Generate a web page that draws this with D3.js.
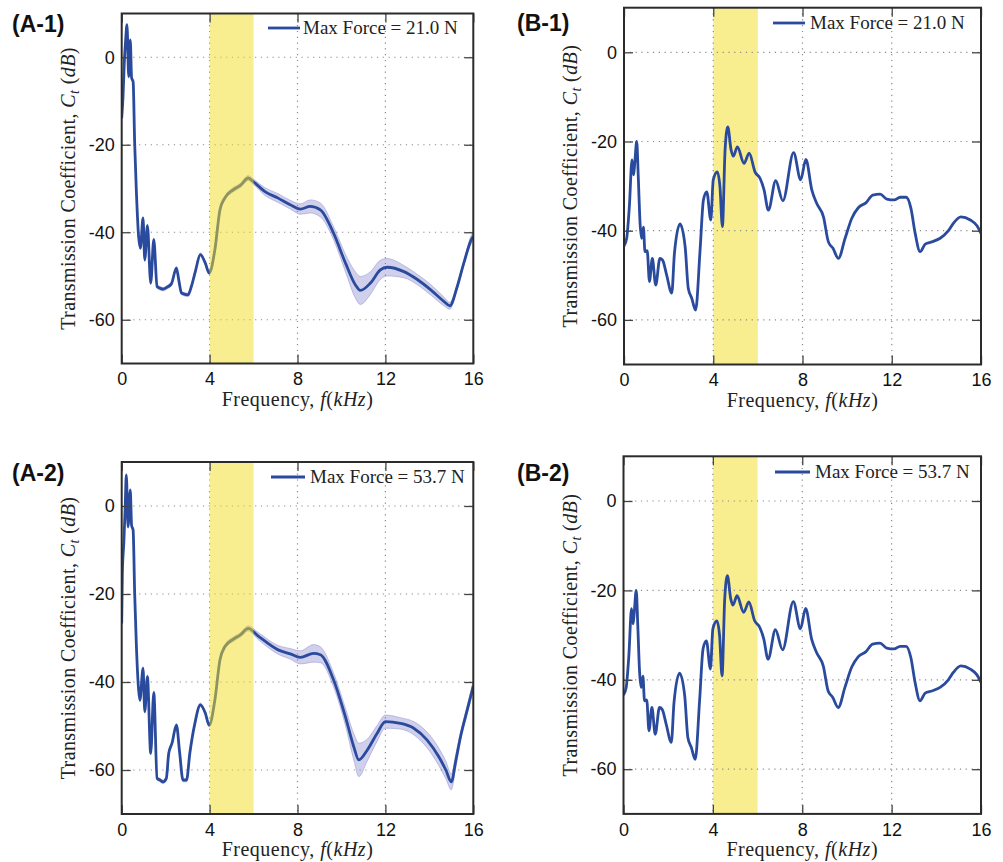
<!DOCTYPE html>
<html><head><meta charset="utf-8">
<script src="https://cdn.jsdelivr.net/npm/d3@7"></script>
<style>body{margin:0;background:#fff} svg{display:block}</style>
</head><body>
<svg id="chart" width="1003" height="862"></svg>
<script>
// ---------- data ----------
const xTicks = [0, 4, 8, 12, 16];
const yTicks = [0, -20, -40, -60];
const highlightBand = [4, 6];
const xDomain = [0, 16];
const yDomain = [-70, 10];

const a1Freq = [0, 0.06, 0.12, 0.18, 0.24, 0.32, 0.39, 0.45, 0.52, 0.59, 0.67, 0.77, 0.85, 0.97, 1.05, 1.17, 1.32, 1.46, 1.61, 1.75, 1.88, 2.05, 2.26, 2.49, 2.6, 2.72, 3.02, 3.17, 3.35, 3.58, 3.8, 3.98, 4.24, 4.47, 4.69, 5.07, 5.4, 5.76, 5.98, 6.52, 7.12, 7.67, 8.13, 8.58, 9.04, 9.64, 10.18, 10.63, 10.86, 11.32, 11.77, 12.08, 12.84, 13.45, 14.05, 14.66, 14.93, 15.27, 15.57, 15.95, 16];
const a1Mean = [-13.9, -9, -1, 4, 7.4, -4.4, 3.9, -4.7, -5.6, -19.6, -31, -41, -43.6, -36.8, -46.3, -38.5, -51.6, -41.7, -52.4, -52.8, -53, -52.6, -51.8, -48.2, -51, -53.9, -54.3, -52.4, -49, -45.1, -47, -49.3, -44, -34.9, -32.2, -30.3, -29.3, -27.6, -28.4, -30.7, -32.2, -33.7, -34.7, -34.1, -34.9, -40.2, -47, -52, -53.3, -51.6, -48.6, -48, -49, -50.8, -53.1, -55.8, -56.8, -52.4, -47, -41.3, -41];
const a1Spread = [0.4, 0.4, 0.4, 0.4, 0.4, 0.4, 0.4, 0.4, 0.4, 0.4, 0.4, 0.4, 0.4, 0.4, 0.4, 0.4, 0.4, 0.4, 0.4, 0.4, 0.4, 0.4, 0.4, 0.4, 0.4, 0.4, 0.4, 0.4, 0.4, 0.4, 0.4, 0.4, 0.5, 0.5, 0.5, 0.5, 0.5, 0.6, 0.6, 0.9, 1.0, 1.0, 1.2, 1.5, 1.6, 1.5, 2.0, 3.0, 3.2, 2.6, 2.2, 2.0, 1.4, 1.2, 1.2, 1.0, 0.8, 0.6, 0.6, 1.0, 1.0];

const a2Freq = [0, 0.03, 0.1, 0.16, 0.21, 0.29, 0.39, 0.45, 0.52, 0.59, 0.67, 0.77, 0.83, 0.97, 1.05, 1.17, 1.32, 1.46, 1.61, 1.75, 1.88, 2.03, 2.14, 2.29, 2.49, 2.64, 2.79, 2.95, 3.1, 3.33, 3.58, 3.8, 3.98, 4.24, 4.47, 4.69, 5.07, 5.4, 5.76, 6.2, 7.12, 7.67, 8.13, 8.73, 9.04, 9.64, 10.18, 10.56, 10.79, 11.17, 11.62, 12.0, 12.68, 13.29, 13.9, 14.43, 14.75, 15.0, 15.2, 15.42, 15.72, 16];
const a2Mean = [-26.7, -15.3, -8, 0, 7.0, -4.7, 3.6, -4.4, -5.5, -19.8, -32, -41.8, -44.1, -36.9, -46.7, -38.8, -56.2, -42.4, -61.9, -62.3, -62.7, -61.9, -56.2, -53.9, -49.8, -56.2, -62.3, -62.3, -56.2, -49.4, -45.2, -47, -49.8, -44.1, -35, -32, -30.3, -29.3, -27.8, -29.5, -32.7, -33.6, -34.4, -33.5, -33.8, -39.5, -47.9, -54.7, -57.7, -55.5, -51.7, -49, -49.4, -50.5, -53.2, -57, -60, -62.7, -58, -52.4, -46.4, -40.9];
const a2Spread = [0.4, 0.4, 0.4, 0.4, 0.4, 0.4, 0.4, 0.4, 0.4, 0.4, 0.4, 0.4, 0.4, 0.4, 0.4, 0.4, 0.4, 0.4, 0.4, 0.4, 0.4, 0.4, 0.4, 0.4, 0.4, 0.4, 0.4, 0.4, 0.4, 0.4, 0.4, 0.4, 0.4, 0.5, 0.5, 0.5, 0.5, 0.5, 0.6, 0.8, 1.0, 1.2, 1.5, 2.0, 1.8, 1.6, 2.0, 3.0, 3.8, 2.5, 1.8, 1.5, 1.3, 1.5, 1.8, 2.0, 2.0, 1.8, 1.5, 1.0, 1.0, 1.0];

const b1Freq = [0, 0.12, 0.24, 0.36, 0.43, 0.48, 0.57, 0.64, 0.72, 0.79, 0.87, 0.94, 1.04, 1.14, 1.27, 1.42, 1.61, 1.73, 1.91, 2.14, 2.26, 2.51, 2.74, 2.88, 3.04, 3.21, 3.41, 3.56, 3.71, 3.89, 4.0, 4.18, 4.3, 4.41, 4.53, 4.65, 4.8, 4.9, 5.08, 5.38, 5.61, 5.87, 6.1, 6.28, 6.47, 6.8, 7.12, 7.6, 7.92, 8.15, 8.42, 8.64, 8.94, 9.16, 9.36, 9.61, 9.91, 10.21, 10.51, 10.85, 11.15, 11.48, 11.78, 12.11, 12.38, 12.65, 12.86, 13.05, 13.27, 13.5, 13.8, 14.17, 14.54, 14.77, 15.1, 15.52, 15.82, 16];
const b1Values = [-43.4, -41.7, -34.6, -24.1, -27.5, -25, -20, -27.9, -38.3, -41.7, -39.2, -44.7, -44.5, -51.4, -46.2, -52.2, -46.2, -46.6, -49.9, -54, -45.1, -38.5, -43.6, -52.9, -55.2, -57.8, -44.3, -33.1, -31.3, -37.6, -28.6, -26.8, -30.1, -39.1, -21.9, -16.7, -21.9, -23.3, -21.2, -24.9, -22.6, -26.8, -28.3, -30.9, -35.4, -28.8, -33.3, -22.5, -28.6, -24, -30.9, -33.9, -36.9, -42.5, -43.9, -46.2, -41.7, -37.2, -34.8, -33.7, -32, -31.8, -32.9, -33.1, -32.5, -32.5, -35, -40.6, -44.7, -43, -42.5, -41.7, -40, -38.3, -36.9, -37.6, -38.9, -40.6];
const b2Freq = b1Freq.slice();
const b2Values = b1Values.slice();

const panelLabels = ["(A-1)", "(B-1)", "(A-2)", "(B-2)"];
const legendTexts = ["Max Force = 21.0 N", "Max Force = 21.0 N", "Max Force = 53.7 N", "Max Force = 53.7 N"];

// ---------- layout ----------
const panels = [
  {key:"a1", freq:a1Freq, vals:a1Mean, spread:a1Spread, box:{l:121.7, r:473.3, t:13.5, b:363.5}, lab:[12,32], leg:[268,300,28,303], overlay:true},
  {key:"b1", freq:b1Freq, vals:b1Values, spread:null, box:{l:624, r:981, t:7.7, b:364.5}, lab:[517,31], leg:[773,805,23,810], overlay:false},
  {key:"a2", freq:a2Freq, vals:a2Mean, spread:a2Spread, box:{l:121.7, r:473.3, t:462, b:814}, lab:[12,481], leg:[271,305,477,310], overlay:true},
  {key:"b2", freq:b2Freq, vals:b2Values, spread:null, box:{l:623.5, r:981, t:456.3, b:813.9}, lab:[517,481], leg:[775,810,472,815], overlay:false}
];

const lineColor = "#2a4b9d";
const sans = "'Liberation Sans', Arial, Helvetica, sans-serif";
const serif = "'Liberation Serif', 'Times New Roman', serif";
const svg = d3.select("#chart");

panels.forEach((p, i) => {
  const x = d3.scaleLinear().domain(xDomain).range([p.box.l, p.box.r]);
  const y = d3.scaleLinear().domain(yDomain).range([p.box.b, p.box.t]);
  const g = svg.append("g");
  const clipId = "clip-" + p.key;
  g.append("clipPath").attr("id", clipId).append("rect")
    .attr("x", p.box.l).attr("y", p.box.t)
    .attr("width", p.box.r - p.box.l).attr("height", p.box.b - p.box.t);
  const plot = g.append("g").attr("clip-path", `url(#${clipId})`);

  const bandRect = (sel) => sel.append("rect")
    .attr("x", x(highlightBand[0])).attr("y", p.box.t)
    .attr("width", x(highlightBand[1]) - x(highlightBand[0]))
    .attr("height", p.box.b - p.box.t);

  if (!p.overlay) bandRect(plot).attr("fill", "#f8ee8f");

  // grid
  plot.selectAll(".vg").data(xTicks.filter(d => d > xDomain[0] && d < xDomain[1])).enter()
    .append("line").attr("x1", d => x(d)).attr("x2", d => x(d))
    .attr("y1", p.box.t).attr("y2", p.box.b)
    .attr("stroke", "#8a8a8a").attr("stroke-width", 1.2).attr("stroke-dasharray", "1.2,4.6");
  plot.selectAll(".hg").data(yTicks).enter()
    .append("line").attr("y1", d => y(d)).attr("y2", d => y(d))
    .attr("x1", p.box.l).attr("x2", p.box.r)
    .attr("stroke", "#8a8a8a").attr("stroke-width", 1.2).attr("stroke-dasharray", "1.2,4.6");

  const pts = p.freq.map((f, k) => ({f, v: p.vals[k], s: p.spread ? p.spread[k] : 0}));
  if (p.spread) {
    const area = d3.area().curve(d3.curveMonotoneX)
      .x(d => x(d.f)).y0(d => y(d.v - d.s)).y1(d => y(d.v + d.s));
    plot.append("path").datum(pts).attr("d", area)
      .attr("fill", "rgba(120,120,200,0.35)")
      .attr("stroke", "rgba(110,110,190,0.45)").attr("stroke-width", 0.8);
  }
  const line = d3.line().curve(d3.curveMonotoneX).x(d => x(d.f)).y(d => y(d.v));
  plot.append("path").datum(pts).attr("d", line)
    .attr("fill", "none").attr("stroke", lineColor).attr("stroke-width", 2.8)
    .attr("stroke-linejoin", "round");

  if (p.overlay) bandRect(plot).attr("fill", "rgb(241,221,33)").attr("fill-opacity", 0.5);

  // axes
  const styleAxis = (ax) => {
    ax.select(".domain").remove();
    ax.selectAll(".tick line").attr("stroke", "#444").attr("stroke-width", 1.3);
    ax.selectAll(".tick text").attr("font-family", sans).attr("font-size", 18).attr("fill", "#111");
  };
  g.append("g").attr("transform", `translate(0,${p.box.b})`)
    .call(d3.axisBottom(x).tickValues(xTicks).tickSizeInner(-9).tickSizeOuter(0).tickPadding(9).tickFormat(d3.format("d")))
    .call(styleAxis);
  g.append("g").attr("transform", `translate(0,${p.box.t})`)
    .call(d3.axisTop(x).tickValues(xTicks).tickSizeInner(-9).tickSizeOuter(0).tickFormat(""))
    .call(styleAxis);
  g.append("g").attr("transform", `translate(${p.box.l},0)`)
    .call(d3.axisLeft(y).tickValues(yTicks).tickSizeInner(-9).tickSizeOuter(0).tickPadding(7).tickFormat(d => d3.format("d")(d).replace("−", "-")))
    .call(styleAxis);
  g.append("g").attr("transform", `translate(${p.box.r},0)`)
    .call(d3.axisRight(y).tickValues(yTicks).tickSizeInner(-9).tickSizeOuter(0).tickFormat(""))
    .call(styleAxis);

  // frame
  g.append("rect").attr("x", p.box.l).attr("y", p.box.t)
    .attr("width", p.box.r - p.box.l).attr("height", p.box.b - p.box.t)
    .attr("fill", "none").attr("stroke", "#2b2b2b").attr("stroke-width", 2);

  // x label
  const cx = (p.box.l + p.box.r) / 2;
  const xl = g.append("text").attr("x", cx).attr("y", p.box.b + 42)
    .attr("text-anchor", "middle").attr("font-family", serif).attr("font-size", 20)
    .attr("letter-spacing", 0.5).attr("fill", "#222");
  xl.append("tspan").text("Frequency, ");
  xl.append("tspan").attr("font-style", "italic").text("f");
  xl.append("tspan").text("(");
  xl.append("tspan").attr("font-style", "italic").text("kHz");
  xl.append("tspan").text(")");

  // y label
  const cy = (p.box.t + p.box.b) / 2;
  const yl = g.append("text").attr("transform", `translate(${p.box.l - 47},${cy}) rotate(-90)`)
    .attr("text-anchor", "middle").attr("font-family", serif).attr("font-size", 20)
    .attr("letter-spacing", 0.4).attr("fill", "#222");
  yl.append("tspan").text("Transmission Coefficient, ");
  yl.append("tspan").attr("font-style", "italic").text("C");
  yl.append("tspan").attr("font-style", "italic").attr("font-size", 14).attr("dy", 4).text("t");
  yl.append("tspan").attr("dy", -4).text(" (");
  yl.append("tspan").attr("font-style", "italic").text("dB");
  yl.append("tspan").text(")");

  // legend
  g.append("line").attr("x1", p.leg[0]).attr("x2", p.leg[1]).attr("y1", p.leg[2]).attr("y2", p.leg[2])
    .attr("stroke", lineColor).attr("stroke-width", 2.8);
  g.append("text").attr("x", p.leg[3]).attr("y", p.leg[2] + 6)
    .attr("font-family", serif).attr("font-size", 19)
    .attr("fill", "#222").text(legendTexts[i]);

  // panel label
  g.append("text").attr("x", p.lab[0]).attr("y", p.lab[1])
    .attr("font-family", sans).attr("font-weight", "bold").attr("font-size", 23).attr("fill", "#111")
    .text(panelLabels[i]);
});
</script>
</body></html>
